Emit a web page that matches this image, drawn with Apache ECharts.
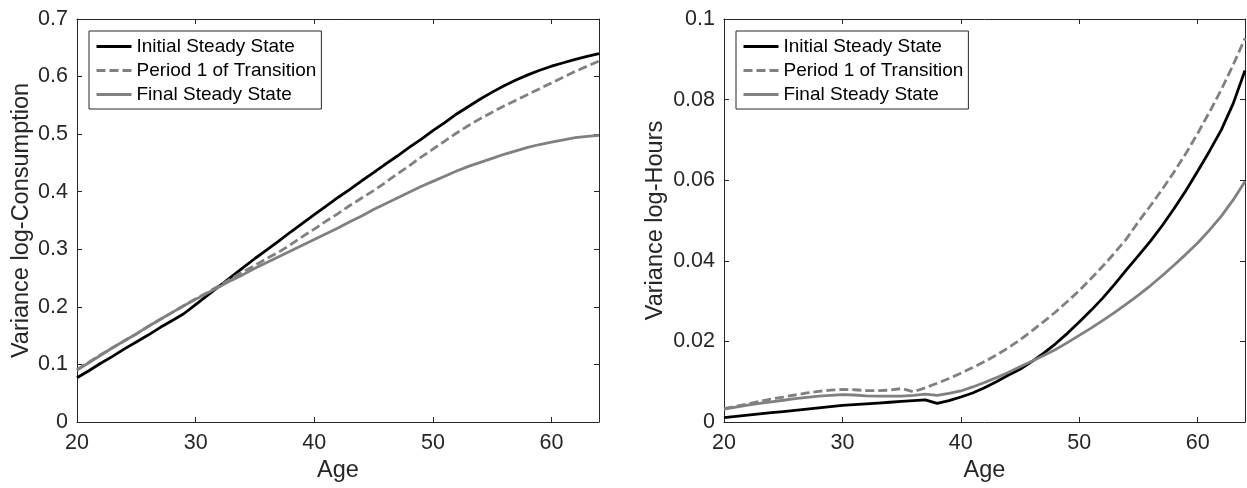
<!DOCTYPE html>
<html>
<head>
<meta charset="utf-8">
<script src="https://cdn.jsdelivr.net/npm/echarts@6/dist/echarts.min.js"></script>
<style>
  html, body { margin: 0; padding: 0; background: #fff; }
  #chart { width: 1247px; height: 488px; }
</style>
</head>
<body>
<div id="chart"></div>
<script>
const ages = [20,21,22,23,24,25,26,27,28,29,30,31,32,33,34,35,36,37,38,39,40,41,42,43,44,45,46,47,48,49,50,51,52,53,54,55,56,57,58,59,60,61,62,63,64];

const seriesNames = ['Initial Steady State', 'Period 1 of Transition', 'Final Steady State'];

const consInitial = [0.077,0.089,0.102,0.114,0.127,0.139,0.151,0.164,0.176,0.188,0.204,0.220,0.236,0.252,0.268,0.284,0.299,0.314,0.330,0.345,0.360,0.375,0.390,0.404,0.419,0.433,0.448,0.462,0.477,0.491,0.506,0.520,0.535,0.548,0.561,0.573,0.584,0.594,0.603,0.611,0.618,0.624,0.630,0.635,0.640];
const consPeriod1 = [0.091,0.104,0.117,0.129,0.141,0.153,0.166,0.178,0.190,0.202,0.214,0.225,0.237,0.249,0.261,0.272,0.284,0.295,0.308,0.322,0.335,0.349,0.362,0.376,0.389,0.402,0.416,0.431,0.445,0.460,0.474,0.488,0.502,0.515,0.527,0.538,0.549,0.559,0.569,0.579,0.589,0.599,0.609,0.618,0.627];
const consFinal = [0.090,0.103,0.116,0.129,0.141,0.153,0.166,0.178,0.190,0.202,0.213,0.224,0.235,0.246,0.256,0.267,0.277,0.287,0.297,0.307,0.317,0.327,0.337,0.348,0.358,0.369,0.379,0.389,0.399,0.409,0.418,0.427,0.436,0.444,0.451,0.458,0.465,0.471,0.477,0.482,0.486,0.490,0.494,0.496,0.498];

const hoursInitial = [0.0011,0.0014,0.0017,0.0020,0.0023,0.0026,0.0029,0.0032,0.0035,0.0038,0.0041,0.0043,0.0045,0.0047,0.0049,0.0051,0.0053,0.0055,0.0046,0.0053,0.0062,0.0072,0.0085,0.0100,0.0116,0.0131,0.0150,0.0171,0.0194,0.0220,0.0248,0.0277,0.0308,0.0342,0.0378,0.0413,0.0448,0.0487,0.0529,0.0574,0.0622,0.0672,0.0725,0.0790,0.0872];
const hoursPeriod1 = [0.0033,0.0039,0.0045,0.0051,0.0057,0.0062,0.0067,0.0072,0.0076,0.0079,0.0081,0.0080,0.0078,0.0078,0.0079,0.0083,0.0075,0.0085,0.0096,0.0108,0.0121,0.0135,0.0150,0.0166,0.0184,0.0204,0.0226,0.0249,0.0273,0.0299,0.0326,0.0356,0.0387,0.0420,0.0455,0.0497,0.0536,0.0577,0.0620,0.0666,0.0716,0.0769,0.0825,0.0886,0.0952];
const hoursFinal = [0.0032,0.0037,0.0042,0.0046,0.0050,0.0054,0.0058,0.0061,0.0064,0.0066,0.0068,0.0067,0.0065,0.0064,0.0064,0.0064,0.0066,0.0069,0.0066,0.0071,0.0077,0.0087,0.0098,0.0110,0.0123,0.0137,0.0151,0.0165,0.0180,0.0197,0.0215,0.0233,0.0252,0.0272,0.0293,0.0315,0.0338,0.0363,0.0389,0.0416,0.0444,0.0476,0.0511,0.0551,0.0597];

const xLabel = 'Age';
const yLabelLeft = 'Variance log-Consumption';
const yLabelRight = 'Variance log-Hours';

const FONT = '"Liberation Sans", Arial, Helvetica, sans-serif';
const AXIS_COLOR = '#262626';
const BLACK = '#000000';
const GRAY = '#808080';

function pairs(values) { return ages.map((a, i) => [a, values[i]]); }
function fmt(v) { return String(parseFloat(v.toFixed(3))); }

function xAx(grid, pos) {
  const main = pos === 'bottom';
  return {
    type: 'value', gridIndex: grid, position: pos, min: 20, max: 64, interval: 10,
    name: main ? xLabel : '', nameLocation: 'middle', nameGap: 37,
    nameTextStyle: { fontFamily: FONT, fontSize: 23.5, color: AXIS_COLOR },
    axisLine: { show: true, onZero: false, lineStyle: { color: AXIS_COLOR, width: 1 } },
    axisTick: { show: true, inside: true, length: 5, lineStyle: { color: AXIS_COLOR } },
    axisLabel: { show: main, fontFamily: FONT, fontSize: 21.5, color: AXIS_COLOR, margin: 10,
                 showMaxLabel: false, formatter: v => (v % 10 === 0 ? String(v) : '') },
    splitLine: { show: false }
  };
}
function yAx(grid, pos, max, interval, name, gap) {
  const main = pos === 'left';
  return {
    type: 'value', gridIndex: grid, position: pos, min: 0, max: max, interval: interval,
    name: main ? name : '', nameLocation: 'middle', nameGap: gap,
    nameTextStyle: { fontFamily: FONT, fontSize: 23.5, color: AXIS_COLOR },
    axisLine: { show: true, onZero: false, lineStyle: { color: AXIS_COLOR, width: 1 } },
    axisTick: { show: true, inside: true, length: 5, lineStyle: { color: AXIS_COLOR } },
    axisLabel: { show: main, fontFamily: FONT, fontSize: 21.5, color: AXIS_COLOR, margin: 9, formatter: fmt },
    splitLine: { show: false }
  };
}
function line(name, xi, yi, values, color, dashed) {
  return {
    type: 'line', name: name, xAxisIndex: xi, yAxisIndex: yi, data: pairs(values),
    showSymbol: false, symbol: 'none', smooth: false, animation: false,
    lineStyle: { color: color, width: 2.8, type: dashed ? [9, 4] : 'solid' },
    itemStyle: { color: 'rgba(0,0,0,0)', borderWidth: 0 }
  };
}
function legend(left) {
  return {
    orient: 'vertical', left: left, top: 31, itemWidth: 35, itemHeight: 14, itemGap: 5,
    padding: [6, 5, 5, 6], backgroundColor: '#fff', borderColor: AXIS_COLOR, borderWidth: 1,
    borderRadius: 0, selectedMode: false, data: seriesNames,
    itemStyle: { color: 'rgba(0,0,0,0)', borderWidth: 0, opacity: 0 },
    lineStyle: { width: 3 },
    textStyle: { fontFamily: FONT, fontSize: 19, color: '#000' }
  };
}

const chart = echarts.init(document.getElementById('chart'), null, { renderer: 'canvas' });
chart.setOption({
  backgroundColor: '#fff',
  animation: false,
  grid: [
    { left: 77, top: 19, width: 522, height: 403 },
    { left: 724, top: 19, width: 521, height: 403 }
  ],
  xAxis: [xAx(0, 'bottom'), xAx(0, 'top'), xAx(1, 'bottom'), xAx(1, 'top')],
  yAxis: [
    yAx(0, 'left', 0.7, 0.1, yLabelLeft, 43),
    yAx(0, 'right', 0.7, 0.1, '', 0),
    yAx(1, 'left', 0.1, 0.02, yLabelRight, 56),
    yAx(1, 'right', 0.1, 0.02, '', 0)
  ],
  legend: [legend(89), legend(736)],
  series: [
    line(seriesNames[0], 0, 0, consInitial, BLACK, false),
    line(seriesNames[1], 0, 0, consPeriod1, GRAY, true),
    line(seriesNames[2], 0, 0, consFinal, GRAY, false),
    line(seriesNames[0], 2, 2, hoursInitial, BLACK, false),
    line(seriesNames[1], 2, 2, hoursPeriod1, GRAY, true),
    line(seriesNames[2], 2, 2, hoursFinal, GRAY, false)
  ]
});
</script>
</body>
</html>
